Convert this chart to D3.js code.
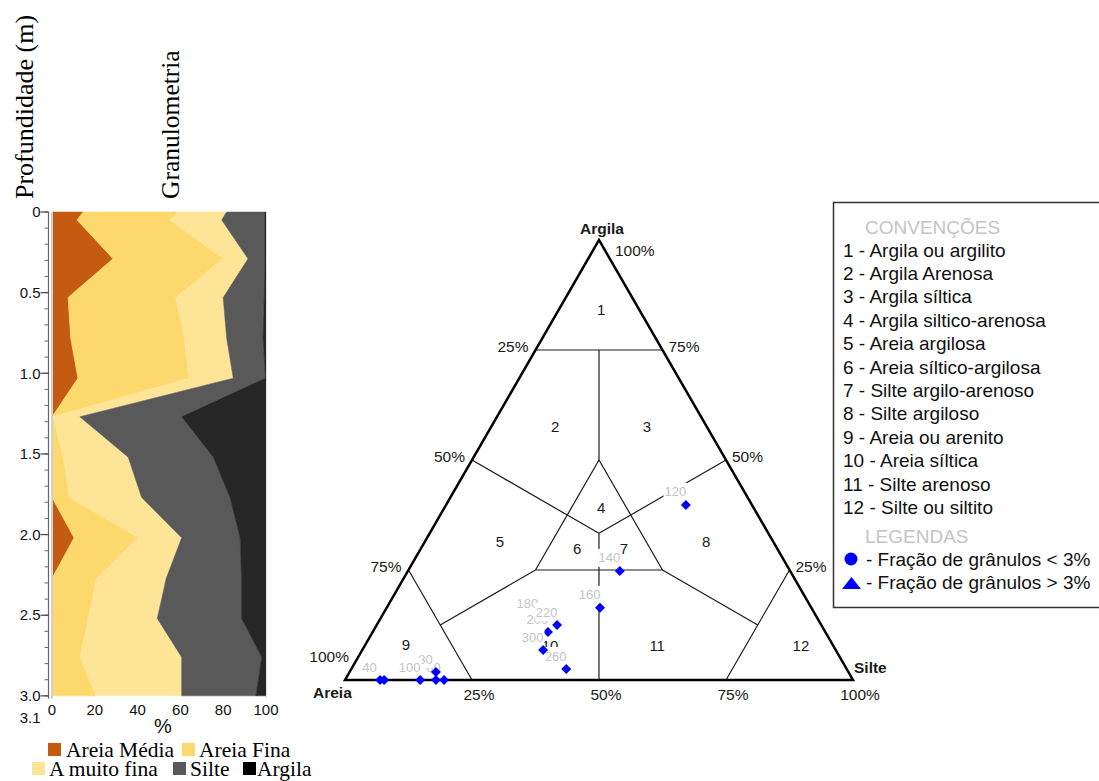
<!DOCTYPE html>
<html><head><meta charset="utf-8">
<script src="https://cdn.jsdelivr.net/npm/d3@7"></script>
<style>body{margin:0;background:#fff} svg{display:block}</style>
</head><body>
<svg id="c" width="1099" height="781"></svg>
<script>
// ---------- Granulometria profile data ----------
const depths     = [0, 0.05, 0.29, 0.53, 0.78, 1.03, 1.27, 1.52, 1.77, 2.02, 2.27, 2.52, 2.76, 3.0];
const areiaMedia = [14.5, 11.7, 28.5, 7.5, 8.7, 12.1, 0, 0, 0, 10.3, 0, 0, 0, 0];
const areiaFina  = [44.5, 43.4, 51.4, 50.3, 53.1, 51.9, 0.5, 5.3, 8.1, 30.0, 20.9, 17.0, 13.1, 20.6];
const muitoFina  = [22.6, 24.2, 11.7, 22.2, 19.8, 20.7, 12.5, 30.3, 33.8, 20.3, 32.5, 32.2, 47.5, 40.0];
const silte      = [17.9, 20.2, 7.9, 19.2, 17.0, 15.1, 47.6, 39.8, 41.3, 27.3, 35.2, 39.4, 37.4, 34.7];
const argila     = [0.5, 0.5, 0.5, 0.8, 1.4, 0.2, 39.4, 24.6, 16.8, 12.1, 11.4, 11.4, 2.0, 4.7];
const layerKeys   = ["Areia Média", "Areia Fina", "A muito fina", "Silte", "Argila"];
const layerColors = ["#c55a11", "#fdd86d", "#fee497", "#595959", "#262626"];
const legendColors = ["#c55a11", "#fdd86d", "#fee497", "#595959", "#000000"];
const depthTicks = [0, 0.5, 1.0, 1.5, 2.0, 2.5, 3.0];
const pctTicks = [0, 20, 40, 60, 80, 100];

// ---------- Ternary data ----------
const sampleLabels = ["", "40", "60", "80", "100", "120", "140", "160", "180", "200", "220", "", "260", "300"];
const sampleSand   = [92.3, 93.1, 80.5, 81.2, 85.2, 13.0, 33.5, 41.6, 54.8, 54.6, 52.0, 82.1, 55.2, 57.6];
const sampleSilt   = [7.7, 6.9, 19.5, 17.0, 14.8, 47.2, 41.7, 42.0, 30.7, 34.5, 35.5, 17.9, 42.3, 35.6];
const sampleClay   = [0, 0, 0, 1.8, 0, 39.8, 24.8, 16.4, 14.5, 10.9, 12.5, 0, 2.5, 6.8];
// classification boundaries [sand, silt, clay]
const zoneLines = [
  [[25,0,75],[0,25,75]],
  [[12.5,12.5,75],[25,25,50]],
  [[25,25,50],[50,25,25]],
  [[25,25,50],[25,50,25]],
  [[50,25,25],[25,50,25]],
  [[50,0,50],[33.33,33.33,33.33]],
  [[0,50,50],[33.33,33.33,33.33]],
  [[33.33,33.33,33.33],[50,50,0]],
  [[75,0,25],[75,25,0]],
  [[50,25,25],[75,12.5,12.5]],
  [[25,50,25],[12.5,75,12.5]],
  [[0,75,25],[25,75,0]]
];
const zoneNames = ["1","2","3","4","5","6","7","8","9","10","11","12"];
const zoneCenters = [[7.5,8.4,84.1],[29.9,12.6,57.5],[11.8,30.7,57.5],[30.0,30.9,39.1],[53.8,14.8,31.4],[39.4,30.8,29.8],[30.2,40.0,29.8],[13.2,55.4,31.4],[84.0,8.0,8.0],[55.8,36.5,7.7],[34.7,57.6,7.7],[6.4,85.9,7.7]];
const edgeTicks = [25, 50, 75];
const conventions = ["1 - Argila ou argilito","2 - Argila Arenosa","3 - Argila síltica","4 - Argila siltico-arenosa","5 - Areia argilosa","6 - Areia síltico-argilosa","7 - Silte argilo-arenoso","8 - Silte argiloso","9 - Areia ou arenito","10 - Areia síltica","11 - Silte arenoso","12 - Silte ou siltito"];
const symbolLegend = ["- Fração de grânulos < 3%", "- Fração de grânulos > 3%"];

const svg = d3.select("#c");
const SANS = "'Liberation Sans', Arial, sans-serif";
const SERIF = "'Liberation Serif', 'Times New Roman', serif";

// ================= LEFT PROFILE =================
const x = d3.scaleLinear().domain([0, 100]).range([52, 266]);
const y = d3.scaleLinear().domain([0, 3.1]).range([212, 712]);
const rows = depths.map((d, i) => ({depth: d, "Areia Média": areiaMedia[i], "Areia Fina": areiaFina[i], "A muito fina": muitoFina[i], "Silte": silte[i], "Argila": argila[i]}));
const series = d3.stack().keys(layerKeys)(rows);
const area = d3.area().y(d => y(d.data.depth)).x0(d => x(d[0])).x1(d => x(d[1])).curve(d3.curveLinear);
svg.append("g").selectAll("path").data(series).join("path")
  .attr("d", area).attr("fill", (d, i) => layerColors[i]).attr("stroke", (d, i) => layerColors[i]).attr("stroke-width", 0.5);

// plot borders
svg.append("line").attr("x1", x(0)).attr("x2", x(0)).attr("y1", y(0)).attr("y2", y(3.0) + 3).attr("stroke", "#d0d0d0").attr("stroke-width", 2);
svg.append("line").attr("x1", x(100)+0.5).attr("x2", x(100)+0.5).attr("y1", y(0)).attr("y2", y(3.0) + 3).attr("stroke", "#e0e0e0").attr("stroke-width", 1);

// y axis
const ya = svg.append("g").attr("transform", "translate(48.5,0)");
ya.append("line").attr("y1", y(0)).attr("y2", y(3.0) + 3).attr("stroke", "#666").attr("stroke-width", 1.2);
ya.selectAll("line.minor").data(d3.range(0, 31).map(i => i / 10)).join("line").attr("class", "minor")
  .attr("x1", -4).attr("x2", 0).attr("y1", d => y(d)).attr("y2", d => y(d)).attr("stroke", "#666");
ya.selectAll("line.major").data(depthTicks).join("line").attr("class", "major")
  .attr("x1", -8).attr("x2", 0).attr("y1", d => y(d)).attr("y2", d => y(d)).attr("stroke", "#444").attr("stroke-width", 1.2);
ya.selectAll("text").data(depthTicks.concat([3.1])).join("text")
  .attr("x", -8).attr("y", d => d === 3.1 ? y(3.0) + 22 : y(d)).attr("dy", "0.35em")
  .attr("text-anchor", "end").attr("font-family", SANS).attr("font-size", 15).attr("fill", "#111")
  .text(d => d === 0 ? "0" : d.toFixed(1));

// x labels
svg.append("g").selectAll("text").data(pctTicks).join("text")
  .attr("x", d => x(d)).attr("y", 710).attr("dy", "0.35em").attr("text-anchor", "middle")
  .attr("font-family", SANS).attr("font-size", 15).attr("fill", "#111").text(d => d);
svg.append("text").attr("x", 163).attr("y", 733).attr("text-anchor", "middle")
  .attr("font-family", SANS).attr("font-size", 20).attr("fill", "#111").text("%");

// titles
svg.append("text").attr("transform", "translate(33,199) rotate(-90)").attr("font-family", SERIF).attr("font-size", 26).attr("fill", "#000").text("Profundidade (m)");
svg.append("text").attr("transform", "translate(179,199) rotate(-90)").attr("font-family", SERIF).attr("font-size", 25.5).attr("fill", "#000").text("Granulometria");

// bottom legend
const legRows = [
  {i: 0, sx: 48, tx: 66, y: 757}, {i: 1, sx: 182, tx: 199, y: 757},
  {i: 2, sx: 32, tx: 49, y: 776}, {i: 3, sx: 173, tx: 190, y: 776}, {i: 4, sx: 243, tx: 257, y: 776}
];
const lg = svg.append("g");
legRows.forEach(r => {
  lg.append("rect").attr("x", r.sx).attr("y", r.y - 14).attr("width", 13).attr("height", 13).attr("fill", legendColors[r.i]);
  lg.append("text").attr("x", r.tx).attr("y", r.y).attr("font-family", SERIF).attr("font-size", 21.5).attr("fill", "#000").text(layerKeys[r.i]);
});

// ================= TERNARY =================
const tx = d3.scaleLinear().domain([0, 100]).range([345, 853]);
const ty = d3.scaleLinear().domain([0, 100]).range([680, 240]);
const P = (s, si, c) => [tx(si + c / 2), ty(c)];
const tg = svg.append("g");

// internal lines
tg.selectAll("line.zone").data(zoneLines).join("line").attr("class", "zone")
  .attr("x1", d => P(...d[0])[0]).attr("y1", d => P(...d[0])[1])
  .attr("x2", d => P(...d[1])[0]).attr("y2", d => P(...d[1])[1])
  .attr("stroke", "#1a1a1a").attr("stroke-width", 1.2);

// zone numbers
tg.selectAll("text.zn").data(zoneNames).join("text").attr("class", "zn")
  .attr("x", (d, i) => P(...zoneCenters[i])[0]).attr("y", (d, i) => P(...zoneCenters[i])[1])
  .attr("dy", "0.35em").attr("text-anchor", "middle").attr("font-family", SANS).attr("font-size", 15).attr("fill", "#1a1a1a").text(d => d);

// outer triangle
const corners = [P(100, 0, 0), P(0, 100, 0), P(0, 0, 100)];
tg.append("path").attr("d", d3.line()(corners) + "Z").attr("fill", "none").attr("stroke", "#000").attr("stroke-width", 2.5).attr("stroke-linejoin", "miter");

// vertex names
tg.append("text").attr("x", P(0,0,100)[0]+3).attr("y", P(0,0,100)[1]-11).attr("dy","0.35em").attr("text-anchor","middle").attr("font-family",SANS).attr("font-weight","bold").attr("font-size",15.5).attr("fill","#1a1a1a").text("Argila");
tg.append("text").attr("x", P(100,0,0)[0]-32).attr("y", P(100,0,0)[1]+13).attr("dy","0.35em").attr("font-family",SANS).attr("font-weight","bold").attr("font-size",15.5).attr("fill","#1a1a1a").text("Areia");
tg.append("text").attr("x", P(0,100,0)[0]+1).attr("y", P(0,100,0)[1]-12).attr("dy","0.35em").attr("font-family",SANS).attr("font-weight","bold").attr("font-size",15.5).attr("fill","#1a1a1a").text("Silte");

const pctText = (xx, yy, anchor, t) => tg.append("text").attr("x", xx).attr("y", yy).attr("dy", "0.35em")
  .attr("text-anchor", anchor).attr("font-family", SANS).attr("font-size", 15.5).attr("fill", "#1a1a1a").text(t);
// left edge: sand %
edgeTicks.forEach(v => { const p = P(v, 0, 100 - v); pctText(p[0] - 7, p[1] - 3, "end", v + "%"); });
pctText(P(100,0,0)[0] + 4, P(100,0,0)[1] - 23, "end", "100%");
// right edge: clay %
edgeTicks.forEach(v => { const p = P(0, 100 - v, v); pctText(p[0] + 6, p[1] - 3, "start", v + "%"); });
pctText(P(0,0,100)[0] + 16, P(0,0,100)[1] + 11, "start", "100%");
// bottom: silt %
edgeTicks.concat([100]).forEach(v => { const p = P(100 - v, v, 0); pctText(p[0] + 7, p[1] + 15, "middle", v + "%"); });

// samples: label (with white background) then diamond
const diamond = "M0,-5L5,0L0,5L-5,0Z";
sampleLabels.forEach((lab, i) => {
  const p = P(sampleSand[i], sampleSilt[i], sampleClay[i]);
  if (lab) {
    const g = tg.append("g").attr("transform", `translate(${p[0] - 10.5},${p[1] - 13})`);
    const t = g.append("text").attr("text-anchor", "middle").attr("dy", "0.35em").attr("font-family", SANS).attr("font-size", 13).attr("fill", "#c4c4c4").text(lab);
    const w = t.node().getComputedTextLength();
    g.insert("rect", "text").attr("x", -w / 2 - 1).attr("y", -9).attr("width", w + 2).attr("height", 18).attr("fill", "#fff");
  }
  tg.append("path").attr("d", diamond).attr("transform", `translate(${p[0]},${p[1]})`).attr("fill", "#0000ff");
});

// ================= CONVENTIONS LEGEND =================
const L = svg.append("g");
L.append("rect").attr("x", 833.5).attr("y", 202.5).attr("width", 280).attr("height", 405).attr("fill", "none").attr("stroke", "#333").attr("stroke-width", 1.5);
L.append("text").attr("x", 865).attr("y", 227).attr("dy", "0.35em").attr("font-family", SANS).attr("font-size", 19).attr("fill", "#c4c4c4").text("CONVENÇÕES");
L.selectAll("text.cv").data(conventions).join("text").attr("class", "cv")
  .attr("x", 843).attr("y", (d, i) => 250 + i * 23.4).attr("dy", "0.35em")
  .attr("font-family", SANS).attr("font-size", 19).attr("fill", "#111").text(d => d);
L.append("text").attr("x", 865).attr("y", 536).attr("dy", "0.35em").attr("font-family", SANS).attr("font-size", 19).attr("fill", "#c4c4c4").text("LEGENDAS");
L.append("circle").attr("cx", 851).attr("cy", 559).attr("r", 6.5).attr("fill", "#0000ff");
L.append("path").attr("d", "M842,589L861,589L851.5,577Z").attr("fill", "#0000ff");
L.selectAll("text.sl").data(symbolLegend).join("text").attr("class", "sl")
  .attr("x", 866).attr("y", (d, i) => 559 + i * 23.4).attr("dy", "0.35em")
  .attr("font-family", SANS).attr("font-size", 19).attr("fill", "#111").text(d => d);
</script>
</body></html>
